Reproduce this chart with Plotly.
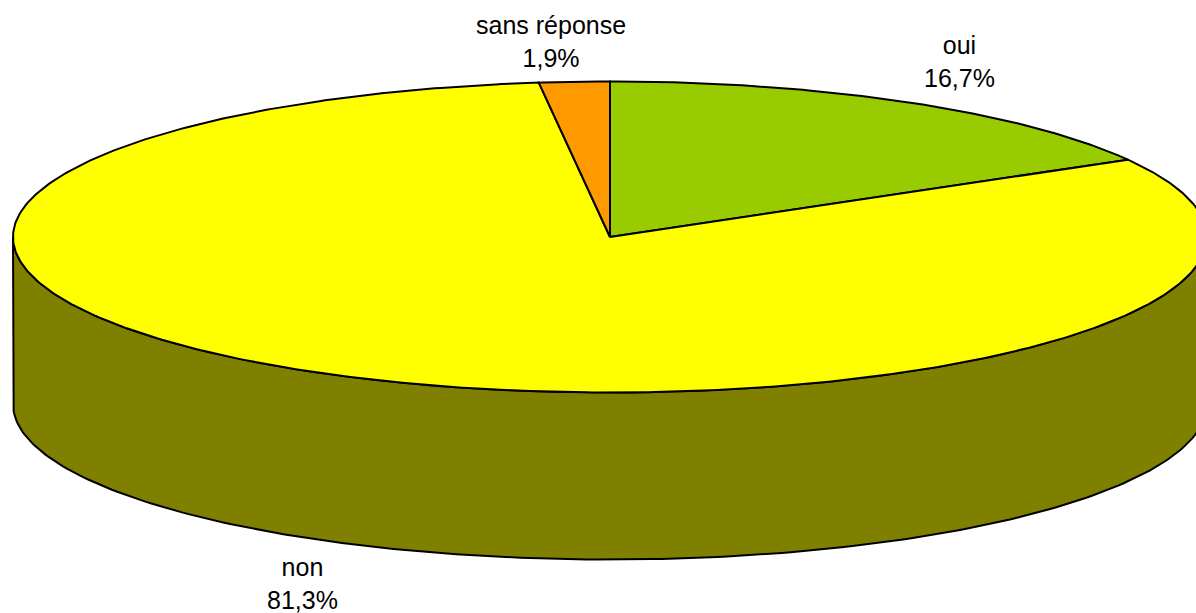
import numpy as np
import plotly.graph_objects as go

# ---- data ----
labels = ["oui", "non", "sans réponse"]
values = [16.7, 81.3, 1.9]
top_colors = ["#99CC00", "#FFFF00", "#FF9900"]
side_colors = ["#4D6600", "#808000", "#804D00"]

# ---- geometry (layout/style) ----
W, H = 1196, 613
cx, cy = 610, 237
rx, ry = 597, 155.5
depth = 167
label_pos = [(959, 61), (302, 583), (551, 41)]

vals = np.array(values, dtype=float)
fr = vals / vals.sum()
ends = np.cumsum(fr) * 360.0
starts = ends - fr * 360.0


def ex(t):
    return cx + rx * np.sin(np.radians(t))


def ey(t, off=0.0):
    return cy - ry * np.cos(np.radians(t)) + off


fig = go.Figure()

# sides (front visible half: 90..270 deg)
for i in range(len(values)):
    a, b = max(starts[i], 90.0), min(ends[i], 270.0)
    if b <= a:
        continue
    t = np.linspace(a, b, 200)
    xs = np.concatenate([ex(t), ex(t[::-1]), [ex(t[0])]])
    ys = np.concatenate([ey(t), ey(t[::-1], depth), [ey(t[0])]])
    fig.add_trace(go.Scatter(x=xs, y=ys, mode="lines", fill="toself",
                             fillcolor=side_colors[i],
                             line=dict(color="black", width=2),
                             hoverinfo="skip", showlegend=False))

# tops
for i in range(len(values)):
    t = np.linspace(starts[i], ends[i], max(int(fr[i] * 600), 20))
    xs = np.concatenate([[cx], ex(t), [cx]])
    ys = np.concatenate([[cy], ey(t), [cy]])
    fig.add_trace(go.Scatter(x=xs, y=ys, mode="lines", fill="toself",
                             fillcolor=top_colors[i],
                             line=dict(color="black", width=2),
                             hoverinfo="skip", showlegend=False))

for i, lab in enumerate(labels):
    txt = f"{lab}<br>{values[i]:.1f}%".replace(".", ",")
    fig.add_annotation(x=label_pos[i][0], y=label_pos[i][1], text=txt,
                       showarrow=False, xref="x", yref="y",
                       font=dict(family="Liberation Sans, Arial", size=25, color="black"))

fig.update_layout(
    width=W, height=H,
    margin=dict(l=0, r=0, t=0, b=0),
    paper_bgcolor="white", plot_bgcolor="white",
    xaxis=dict(range=[0, W], visible=False, fixedrange=True),
    yaxis=dict(range=[H, 0], visible=False, fixedrange=True),
    showlegend=False,
)

fig.write_html("out.html", config={"displayModeBar": False},
               post_script="document.body.style.margin='0';document.body.style.overflow='hidden';")
